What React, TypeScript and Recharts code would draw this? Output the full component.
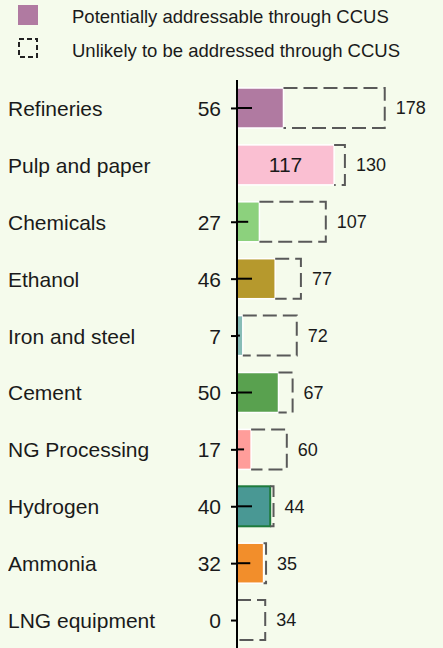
import { BarChart, Bar, XAxis, YAxis, LabelList } from "recharts";

const SECTORS = [
  "Refineries",
  "Pulp and paper",
  "Chemicals",
  "Ethanol",
  "Iron and steel",
  "Cement",
  "NG Processing",
  "Hydrogen",
  "Ammonia",
  "LNG equipment",
];
const ADDRESSABLE = [56, 117, 27, 46, 7, 50, 17, 40, 32, 0];
const TOTAL = [178, 130, 107, 77, 72, 67, 60, 44, 35, 34];

const COLORS = [
  "#b07aa1",
  "#fabfd2",
  "#8cd17d",
  "#b6992d",
  "#86bcb6",
  "#59a14f",
  "#ff9d9a",
  "#499894",
  "#f28e2b",
  "#bab0ac",
];

const BG = "#f5fbec";
const FONT = "'Liberation Sans', Arial, sans-serif";
const INK = "#1a1a1a";

const data = SECTORS.map((name, i) => ({
  name,
  addressable: ADDRESSABLE[i],
  unlikely: TOTAL[i] - ADDRESSABLE[i],
  total: TOTAL[i],
  color: COLORS[i],
}));

// labels big enough are printed inside the bar instead of next to the axis
const insideLabel = (v: number) => v >= 100;

function SectorTick(props: any) {
  const { x, y, payload } = props;
  const i = SECTORS.indexOf(payload.value);
  const v = ADDRESSABLE[i];
  return (
    <g>
      <text x={0} y={y} dominantBaseline="central" fontSize={21} fill={INK} fontFamily={FONT}>
        {payload.value}
      </text>
      {!insideLabel(v) && (
        <>
          <text
            x={x}
            y={y}
            textAnchor="end"
            dominantBaseline="central"
            fontSize={21}
            fill={INK}
            fontFamily={FONT}
          >
            {v}
          </text>
          <line x1={x + 10} x2={x + 16} y1={y} y2={y} stroke="#000" strokeWidth={2} />
        </>
      )}
    </g>
  );
}

function FilledBar(props: any) {
  const { x, y, width, height, payload } = props;
  if (!width || width <= 0) return <g />;
  const hydrogen = payload.name === "Hydrogen";
  const tickLen = Math.min(15, width / 2);
  return (
    <g>
      <rect
        x={x}
        y={y}
        width={width}
        height={height}
        fill={payload.color}
        stroke={hydrogen ? "#1e7b3c" : "#ffffff"}
        strokeWidth={hydrogen ? 2 : 1.5}
      />
      {insideLabel(payload.addressable) ? (
        <text
          x={x + width / 2}
          y={y + height / 2}
          textAnchor="middle"
          dominantBaseline="central"
          fontSize={21}
          fill={INK}
          fontFamily={FONT}
        >
          {payload.addressable}
        </text>
      ) : (
        <line x1={x} x2={x + tickLen} y1={y + height / 2} y2={y + height / 2} stroke="#000" strokeWidth={2} />
      )}
    </g>
  );
}

function DashedBar(props: any) {
  const { x, y, width, height } = props;
  if (!width || width <= 0) return <g />;
  return (
    <path
      d={`M${x},${y} H${x + width} V${y + height} H${x}`}
      fill="none"
      stroke="#595959"
      strokeWidth={2}
      strokeDasharray="14 6"
    />
  );
}

function LegendBox() {
  return (
    <svg width={443} height={70} style={{ position: "absolute", left: 0, top: 0 }}>
      <rect x={18} y={5} width={20} height={20} fill={COLORS[0]} />
      <text x={72} y={16} dominantBaseline="central" fontSize={18.5} fill={INK} fontFamily={FONT}>
        Potentially addressable through CCUS
      </text>
      <rect
        x={19}
        y={39}
        width={18}
        height={18}
        fill="none"
        stroke="#222"
        strokeWidth={2}
        strokeDasharray="5 3"
      />
      <text x={72} y={50} dominantBaseline="central" fontSize={18.5} fill={INK} fontFamily={FONT}>
        Unlikely to be addressed through CCUS
      </text>
    </svg>
  );
}

export default function App() {
  return (
    <div style={{ position: "fixed", inset: 0, background: BG, overflow: "hidden" }}>
      <LegendBox />
      <div style={{ position: "absolute", left: 8, top: 8 }}>
        <BarChart
          width={435}
          height={641}
          data={data}
          layout="vertical"
          barSize={40}
          margin={{ top: 72, right: 40, bottom: 0, left: 0 }}
        >
          <XAxis type="number" domain={[0, 200]} hide />
          <YAxis
            type="category"
            dataKey="name"
            width={229}
            axisLine={{ stroke: "#000", strokeWidth: 2 }}
            tickLine={false}
            tickSize={6}
            tickMargin={10}
            tick={<SectorTick />}
            interval={0}
          />
          <Bar
            dataKey="addressable"
            stackId="a"
            shape={<FilledBar />}
            isAnimationActive={false}
          />
          <Bar
            dataKey="unlikely"
            stackId="a"
            shape={<DashedBar />}
            isAnimationActive={false}
          >
            <LabelList
              dataKey="total"
              position="right"
              offset={11}
              fontSize={18}
              fill={INK}
              fontFamily={FONT}
            />
          </Bar>
        </BarChart>
      </div>
    </div>
  );
}
